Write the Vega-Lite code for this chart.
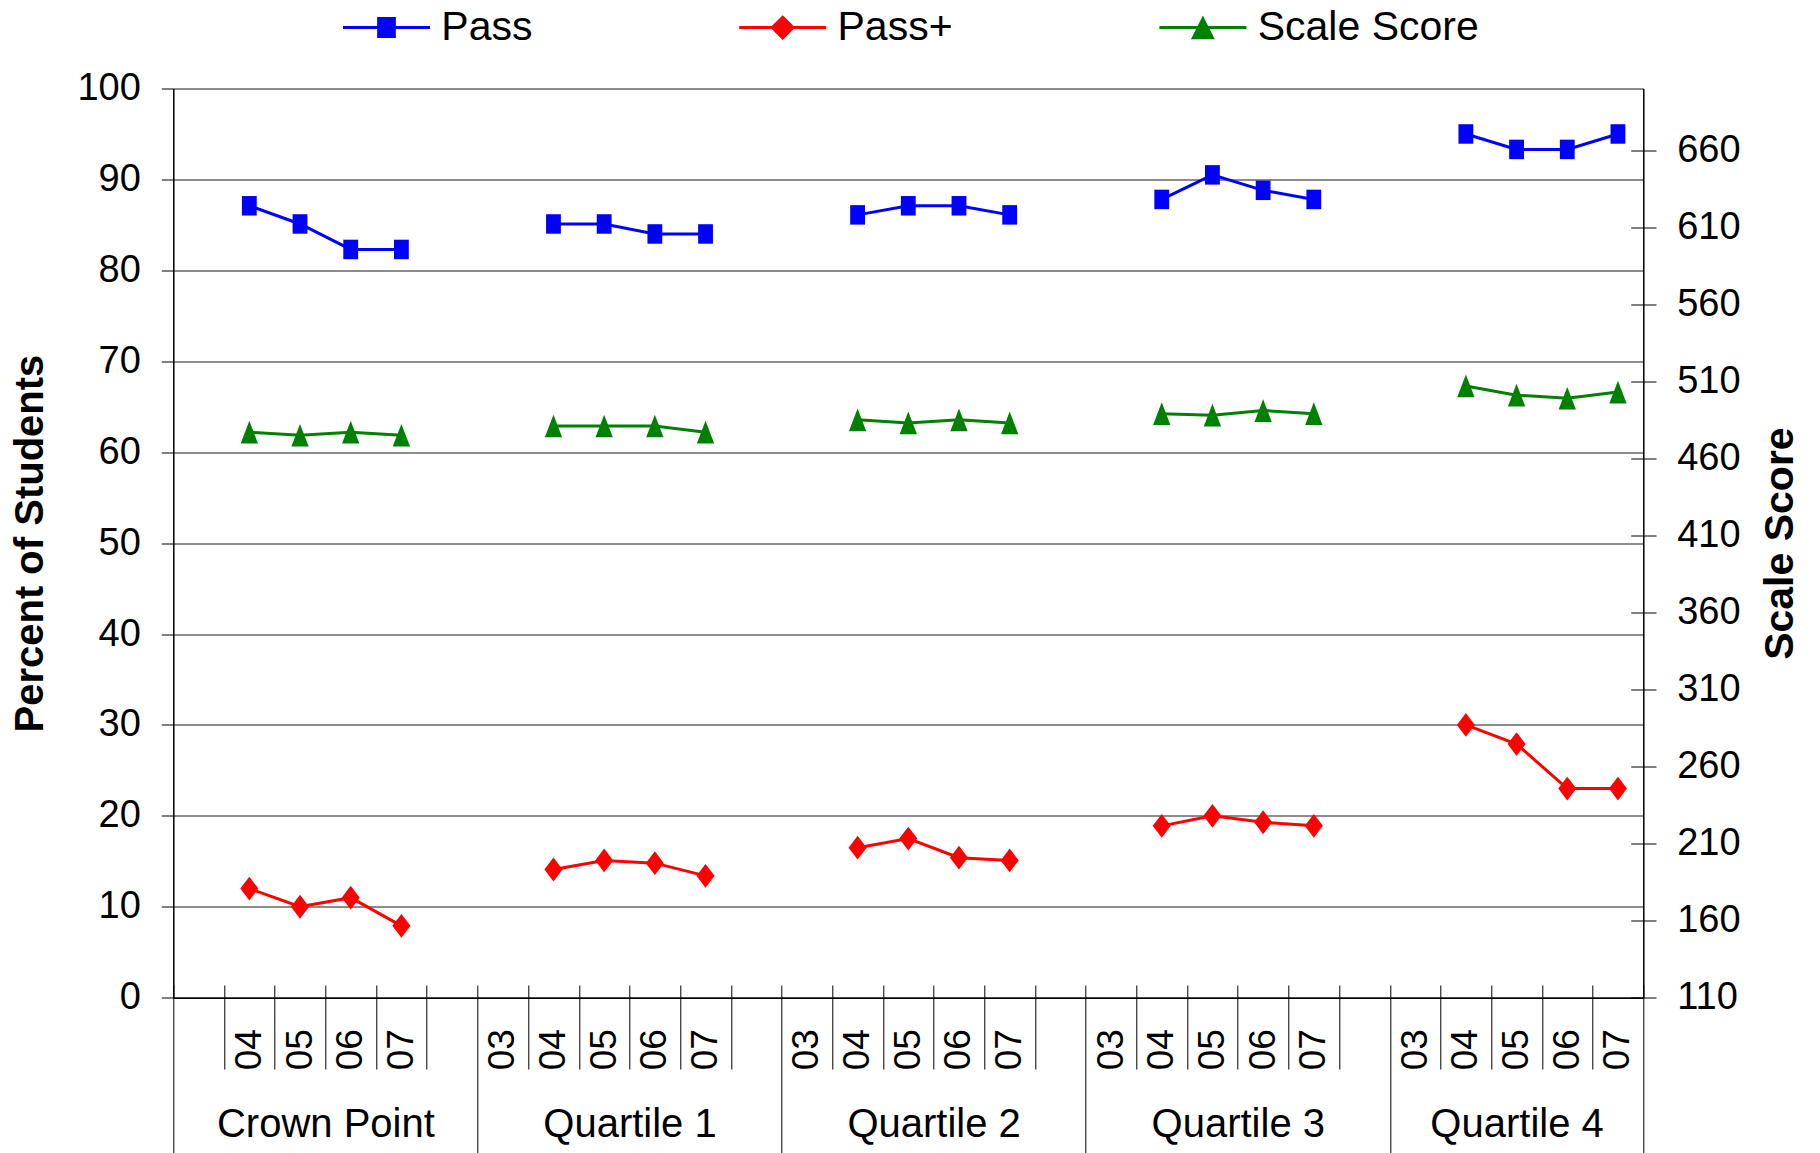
{
  "$schema": "https://vega.github.io/schema/vega-lite/v6.json",
  "width": 1470,
  "height": 909.2,
  "autosize": {"type": "none"},
  "padding": {"left": 173.3, "top": 88.5, "right": 176.7, "bottom": 155.3},
  "config": {
    "font": "Liberation Sans",
    "view": {"stroke": null},
    "axis": {"labelColor": "#000", "titleColor": "#000", "domainColor": "#000", "tickColor": "#000"}
  },
  "data": {
    "values": [
      {"group": "Crown Point", "year": "04", "slot": 1, "series": "Pass", "value": 87.1},
      {"group": "Crown Point", "year": "05", "slot": 2, "series": "Pass", "value": 85.1},
      {"group": "Crown Point", "year": "06", "slot": 3, "series": "Pass", "value": 82.3},
      {"group": "Crown Point", "year": "07", "slot": 4, "series": "Pass", "value": 82.3},
      {"group": "Quartile 1", "year": "04", "slot": 7, "series": "Pass", "value": 85.1},
      {"group": "Quartile 1", "year": "05", "slot": 8, "series": "Pass", "value": 85.1},
      {"group": "Quartile 1", "year": "06", "slot": 9, "series": "Pass", "value": 84.0},
      {"group": "Quartile 1", "year": "07", "slot": 10, "series": "Pass", "value": 84.0},
      {"group": "Quartile 2", "year": "04", "slot": 13, "series": "Pass", "value": 86.1},
      {"group": "Quartile 2", "year": "05", "slot": 14, "series": "Pass", "value": 87.1},
      {"group": "Quartile 2", "year": "06", "slot": 15, "series": "Pass", "value": 87.1},
      {"group": "Quartile 2", "year": "07", "slot": 16, "series": "Pass", "value": 86.1},
      {"group": "Quartile 3", "year": "04", "slot": 19, "series": "Pass", "value": 87.8},
      {"group": "Quartile 3", "year": "05", "slot": 20, "series": "Pass", "value": 90.5},
      {"group": "Quartile 3", "year": "06", "slot": 21, "series": "Pass", "value": 88.8},
      {"group": "Quartile 3", "year": "07", "slot": 22, "series": "Pass", "value": 87.8},
      {"group": "Quartile 4", "year": "04", "slot": 25, "series": "Pass", "value": 95.0},
      {"group": "Quartile 4", "year": "05", "slot": 26, "series": "Pass", "value": 93.3},
      {"group": "Quartile 4", "year": "06", "slot": 27, "series": "Pass", "value": 93.3},
      {"group": "Quartile 4", "year": "07", "slot": 28, "series": "Pass", "value": 95.0},
      {"group": "Crown Point", "year": "04", "slot": 1, "series": "Pass+", "value": 12.0},
      {"group": "Crown Point", "year": "05", "slot": 2, "series": "Pass+", "value": 10.0},
      {"group": "Crown Point", "year": "06", "slot": 3, "series": "Pass+", "value": 11.0},
      {"group": "Crown Point", "year": "07", "slot": 4, "series": "Pass+", "value": 7.9},
      {"group": "Quartile 1", "year": "04", "slot": 7, "series": "Pass+", "value": 14.1},
      {"group": "Quartile 1", "year": "05", "slot": 8, "series": "Pass+", "value": 15.1},
      {"group": "Quartile 1", "year": "06", "slot": 9, "series": "Pass+", "value": 14.8},
      {"group": "Quartile 1", "year": "07", "slot": 10, "series": "Pass+", "value": 13.4},
      {"group": "Quartile 2", "year": "04", "slot": 13, "series": "Pass+", "value": 16.5},
      {"group": "Quartile 2", "year": "05", "slot": 14, "series": "Pass+", "value": 17.5},
      {"group": "Quartile 2", "year": "06", "slot": 15, "series": "Pass+", "value": 15.4},
      {"group": "Quartile 2", "year": "07", "slot": 16, "series": "Pass+", "value": 15.1},
      {"group": "Quartile 3", "year": "04", "slot": 19, "series": "Pass+", "value": 18.9},
      {"group": "Quartile 3", "year": "05", "slot": 20, "series": "Pass+", "value": 20.0},
      {"group": "Quartile 3", "year": "06", "slot": 21, "series": "Pass+", "value": 19.3},
      {"group": "Quartile 3", "year": "07", "slot": 22, "series": "Pass+", "value": 18.9},
      {"group": "Quartile 4", "year": "04", "slot": 25, "series": "Pass+", "value": 30.0},
      {"group": "Quartile 4", "year": "05", "slot": 26, "series": "Pass+", "value": 27.9},
      {"group": "Quartile 4", "year": "06", "slot": 27, "series": "Pass+", "value": 23.0},
      {"group": "Quartile 4", "year": "07", "slot": 28, "series": "Pass+", "value": 23.0},
      {"group": "Crown Point", "year": "04", "slot": 1, "series": "Scale Score", "value": 477},
      {"group": "Crown Point", "year": "05", "slot": 2, "series": "Scale Score", "value": 475},
      {"group": "Crown Point", "year": "06", "slot": 3, "series": "Scale Score", "value": 477},
      {"group": "Crown Point", "year": "07", "slot": 4, "series": "Scale Score", "value": 475},
      {"group": "Quartile 1", "year": "04", "slot": 7, "series": "Scale Score", "value": 481},
      {"group": "Quartile 1", "year": "05", "slot": 8, "series": "Scale Score", "value": 481},
      {"group": "Quartile 1", "year": "06", "slot": 9, "series": "Scale Score", "value": 481},
      {"group": "Quartile 1", "year": "07", "slot": 10, "series": "Scale Score", "value": 477},
      {"group": "Quartile 2", "year": "04", "slot": 13, "series": "Scale Score", "value": 485},
      {"group": "Quartile 2", "year": "05", "slot": 14, "series": "Scale Score", "value": 483},
      {"group": "Quartile 2", "year": "06", "slot": 15, "series": "Scale Score", "value": 485},
      {"group": "Quartile 2", "year": "07", "slot": 16, "series": "Scale Score", "value": 483},
      {"group": "Quartile 3", "year": "04", "slot": 19, "series": "Scale Score", "value": 489},
      {"group": "Quartile 3", "year": "05", "slot": 20, "series": "Scale Score", "value": 488},
      {"group": "Quartile 3", "year": "06", "slot": 21, "series": "Scale Score", "value": 491},
      {"group": "Quartile 3", "year": "07", "slot": 22, "series": "Scale Score", "value": 489},
      {"group": "Quartile 4", "year": "04", "slot": 25, "series": "Scale Score", "value": 507},
      {"group": "Quartile 4", "year": "05", "slot": 26, "series": "Scale Score", "value": 501},
      {"group": "Quartile 4", "year": "06", "slot": 27, "series": "Scale Score", "value": 499},
      {"group": "Quartile 4", "year": "07", "slot": 28, "series": "Scale Score", "value": 503}
    ]
  },
  "layer": [
    {
      "transform": [{"filter": "datum.series !== 'Scale Score'"}],
      "resolve": {"axis": {"x": "independent"}},
      "layer": [
        {
          "mark": {"type": "line", "strokeWidth": 3},
          "encoding": {
            "x": {
              "field": "slot", "type": "quantitative",
              "scale": {"domain": [-0.5, 28.5], "nice": false, "zero": false},
              "axis": {
                "orient": "bottom", "title": null, "grid": false, "labels": false,
                "values": [-0.5, 0.5, 1.5, 2.5, 3.5, 4.5, 5.5, 6.5, 7.5, 8.5, 9.5, 10.5, 11.5, 12.5, 13.5, 14.5, 15.5, 16.5, 17.5, 18.5, 19.5, 20.5, 21.5, 22.5, 23.5, 24.5, 25.5, 26.5, 27.5, 28.5],
                "domain": true, "domainWidth": 1.5, "ticks": true, "tickWidth": 1,
                "tickSize": {"condition": {"test": "(datum.value + 0.5) % 6 === 0 || datum.value === 28.5", "value": 156}, "value": 71.3}
              }
            },
            "y": {
              "field": "value", "type": "quantitative",
              "scale": {"domain": [0, 100], "nice": false, "zero": true},
              "axis": {
                "orient": "left", "values": [0, 10, 20, 30, 40, 50, 60, 70, 80, 90, 100],
                "grid": true, "gridColor": "#1a1a1a", "gridWidth": 1,
                "tickSize": 12, "tickWidth": 1, "labelPadding": 21, "labelFontSize": 38,
                "domainWidth": 1.5, "title": "Percent of Students", "titleFontSize": 40,
                "titleFontWeight": "bold", "titlePadding": 26, "labelOverlap": false
              }
            },
            "color": {
              "field": "series", "type": "nominal",
              "scale": {"domain": ["Pass", "Pass+", "Scale Score"], "range": ["#0000ff", "#ff0000", "#008000"]},
              "legend": {
                "title": null, "orient": "none", "legendX": 149.2, "legendY": -81.7,
                "direction": "horizontal", "columnPadding": 186.2, "gridAlign": "each", "padding": 0,
                "labelFontSize": 41, "labelColor": "#000", "labelOffset": 77.8, "labelLimit": 500,
                "symbolSize": 100, "symbolStrokeWidth": 3,
                "encode": {
                  "symbols": {
                    "update": {
                      "shape": {"signal": "datum.value === 'Pass' ? 'M0,0H17.4M7.13,-1.8H10.27V1.8H7.13Z' : datum.value === 'Pass+' ? 'M0,0H17.4M8.7,-2.06L10.76,0L8.7,2.06L6.64,0Z' : 'M0,0H17.4M8.7,-1.75L10.6,2.05L6.8,2.05Z'"},
                      "fill": {"signal": "datum.value === 'Pass' ? '#0000ff' : datum.value === 'Pass+' ? '#ff0000' : '#008000'"},
                      "stroke": {"signal": "datum.value === 'Pass' ? '#0000ff' : datum.value === 'Pass+' ? '#ff0000' : '#008000'"},
                      "strokeWidth": {"value": 3},
                      "size": {"value": 100},
                      "opacity": {"value": 1}
                    }
                  }
                }
              }
            },
            "detail": {"field": "group", "type": "nominal"}
          }
        },
        {
          "transform": [{"filter": "datum.series === 'Pass'"}],
          "mark": {"type": "point", "filled": true, "size": 300, "opacity": 1, "color": "#0000ff", "shape": "M-0.856,-1.125H0.856V1.125H-0.856Z"},
          "encoding": {
            "x": {
              "field": "slot", "type": "quantitative",
              "scale": {"domain": [-0.5, 28.5], "nice": false, "zero": false},
              "axis": {
                "orient": "bottom", "title": null, "grid": false, "domain": false, "ticks": false, "tickSize": 0,
                "values": [0, 1, 2, 3, 4, 5, 6, 7, 8, 9, 10, 11, 12, 13, 14, 15, 16, 17, 18, 19, 20, 21, 22, 23, 24, 25, 26, 27, 28],
                "labelExpr": "['', '04', '05', '06', '07', '', '03', '04', '05', '06', '07', '', '03', '04', '05', '06', '07', '', '03', '04', '05', '06', '07', '', '03', '04', '05', '06', '07'][datum.value]",
                "labelAngle": 270, "labelAlign": "right", "labelBaseline": "middle", "labelPadding": 31,
                "labelFontSize": 37, "labelOverlap": false, "labelFlush": false, "labelBound": false
              }
            },
            "y": {
              "field": "value", "type": "quantitative",
              "scale": {"domain": [0, 100], "nice": false, "zero": true},
              "axis": {
                "orient": "left", "values": [0, 10, 20, 30, 40, 50, 60, 70, 80, 90, 100],
                "grid": true, "gridColor": "#1a1a1a", "gridWidth": 1,
                "tickSize": 12, "tickWidth": 1, "labelPadding": 21, "labelFontSize": 38,
                "domainWidth": 1.5, "title": "Percent of Students", "titleFontSize": 40,
                "titleFontWeight": "bold", "titlePadding": 26, "labelOverlap": false
              }
            }
          }
        },
        {
          "transform": [{"filter": "datum.series === 'Pass+'"}],
          "mark": {"type": "point", "filled": true, "size": 300, "opacity": 1, "color": "#ff0000", "shape": "M0,-1.375L1.044,0L0,1.375L-1.044,0Z"},
          "encoding": {
            "x": {
              "field": "slot", "type": "quantitative",
              "scale": {"domain": [-0.5, 28.5], "nice": false, "zero": false},
              "axis": {
                "orient": "bottom", "title": null, "grid": false, "labels": false, "domain": false,
                "values": [-0.5, 0.5, 1.5, 2.5, 3.5, 4.5, 5.5, 6.5, 7.5, 8.5, 9.5, 10.5, 11.5, 12.5, 13.5, 14.5, 15.5, 16.5, 17.5, 18.5, 19.5, 20.5, 21.5, 22.5, 23.5, 24.5, 25.5, 26.5, 27.5, 28.5],
                "ticks": true, "tickWidth": 1, "tickSize": -12.7
              }
            },
            "y": {
              "field": "value", "type": "quantitative",
              "scale": {"domain": [0, 100], "nice": false, "zero": true},
              "axis": {
                "orient": "left", "values": [0, 10, 20, 30, 40, 50, 60, 70, 80, 90, 100],
                "grid": true, "gridColor": "#1a1a1a", "gridWidth": 1,
                "tickSize": 12, "tickWidth": 1, "labelPadding": 21, "labelFontSize": 38,
                "domainWidth": 1.5, "title": "Percent of Students", "titleFontSize": 40,
                "titleFontWeight": "bold", "titlePadding": 26, "labelOverlap": false
              }
            }
          }
        }
      ]
    },
    {
      "transform": [{"filter": "datum.series === 'Scale Score'"}],
      "resolve": {"axis": {"x": "independent", "y": "independent"}},
      "layer": [
        {
          "mark": {"type": "line", "strokeWidth": 3},
          "encoding": {
            "x": {
              "field": "slot", "type": "quantitative",
              "scale": {"domain": [-0.5, 28.5], "nice": false, "zero": false},
              "axis": {
                "orient": "bottom", "title": null, "grid": false, "domain": false, "ticks": false, "tickSize": 0,
                "values": [2.5, 8.5, 14.5, 20.5, 26],
                "labelExpr": "datum.value < 5 ? 'Crown Point' : datum.value < 11 ? 'Quartile 1' : datum.value < 17 ? 'Quartile 2' : datum.value < 23 ? 'Quartile 3' : 'Quartile 4'",
                "labelAngle": 0, "labelAlign": "center", "labelBaseline": "alphabetic", "labelPadding": 139,
                "labelFontSize": 40, "labelLimit": 400, "labelOverlap": false, "labelFlush": false, "labelBound": false
              }
            },
            "y": {
              "field": "value", "type": "quantitative",
              "scale": {"domain": [110, 700], "nice": false, "zero": false},
              "axis": {
                "orient": "right", "values": [110, 160, 210, 260, 310, 360, 410, 460, 510, 560, 610, 660],
                "grid": false, "tickSize": 12.7, "tickWidth": 1, "labelPadding": 20.7, "labelFontSize": 38,
                "domainWidth": 1.5, "title": "Scale Score", "titleFontSize": 41, "titleFontWeight": "bold",
                "titleAngle": 270, "titleBaseline": "top", "titlePadding": 20, "labelOverlap": false
              }
            },
            "color": {
              "field": "series", "type": "nominal",
              "scale": {"domain": ["Pass", "Pass+", "Scale Score"], "range": ["#0000ff", "#ff0000", "#008000"]},
              "legend": null
            },
            "detail": {"field": "group", "type": "nominal"}
          }
        },
        {
          "mark": {"type": "point", "filled": true, "size": 300, "opacity": 1, "color": "#008000", "shape": "M0,-1.31L1,1.31L-1,1.31Z"},
          "encoding": {
            "x": {
              "field": "slot", "type": "quantitative",
              "scale": {"domain": [-0.5, 28.5], "nice": false, "zero": false},
              "axis": null
            },
            "y": {
              "field": "value", "type": "quantitative",
              "scale": {"domain": [110, 700], "nice": false, "zero": false},
              "axis": {
                "orient": "right", "values": [110, 160, 210, 260, 310, 360, 410, 460, 510, 560, 610, 660],
                "grid": false, "labels": false, "domain": false, "title": null,
                "ticks": true, "tickWidth": 1, "tickSize": -12.6
              }
            }
          }
        }
      ]
    }
  ],
  "resolve": {"scale": {"y": "independent"}, "axis": {"x": "independent"}}
}
